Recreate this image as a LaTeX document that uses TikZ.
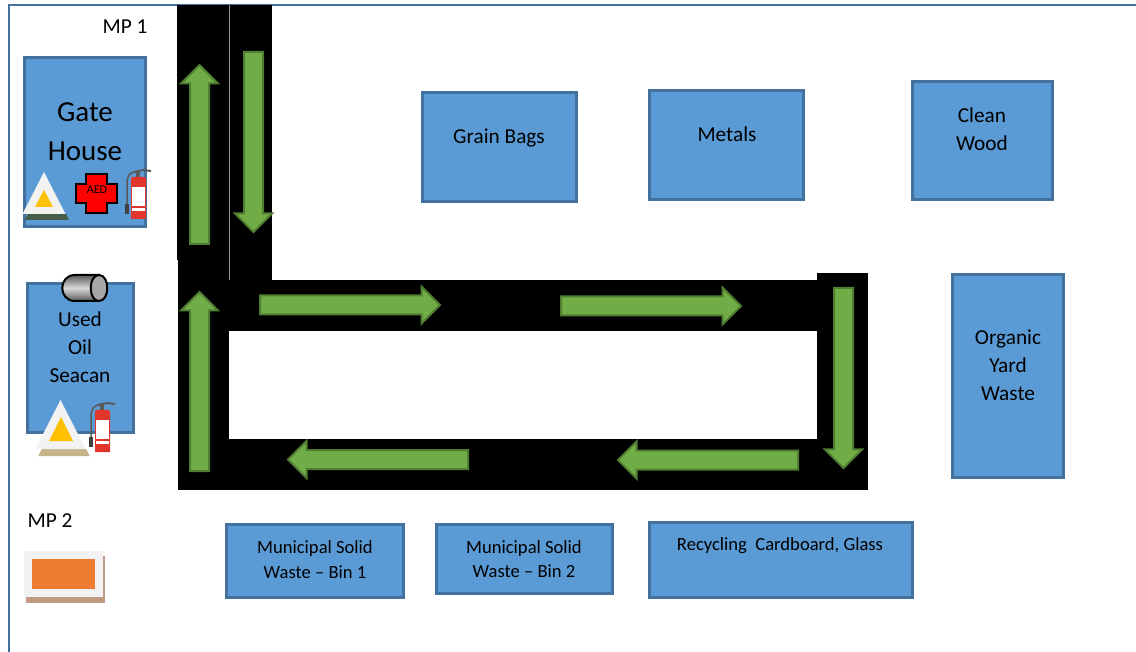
\documentclass[tikz,border=0pt]{standalone}
\usepackage{fontspec}
\setmainfont{Carlito}
\usetikzlibrary{shapes.arrows}
\definecolor{boxfill}{HTML}{5B9BD5}
\definecolor{boxline}{HTML}{41719C}
\definecolor{arrowfill}{HTML}{70AD47}
\definecolor{arrowline}{HTML}{507E32}
\definecolor{signwhite}{HTML}{F2F2F2}
\definecolor{signyellow}{HTML}{FFC000}
\definecolor{padorange}{HTML}{ED7D31}
\definecolor{padshadow}{HTML}{C09A82}
\definecolor{firered}{HTML}{E0352B}
\tikzset{
  bin/.style={draw=boxline,fill=boxfill,line width=2.2pt,inner sep=0pt},
  tag/.style={align=center,inner sep=0pt,font=\fontsize{21.3}{28}\selectfont},
  bigtag/.style={align=center,inner sep=0pt,font=\fontsize{29}{39}\selectfont},
  smalltag/.style={align=center,inner sep=0pt,font=\fontsize{18.6}{24.5}\selectfont},
  flow/.style={shape=single arrow,draw=arrowline,fill=arrowfill,line width=2pt,
    inner sep=8.5pt,single arrow head extend=9pt,single arrow head indent=0pt,anchor=tail},
}
\newcommand{\extinguisher}[2]{
  \begin{scope}[shift={(#1,#2)}]
    \draw[black!65,line width=1.5pt] (7,-5) .. controls (0,-6) and (-4,-2) .. (-4,6) -- (-4,28);
    \fill[black!75] (-6,27) rectangle (-2,37);
    \draw[black!65,line width=2pt] (3,-5) -- (12,-7) -- (20,-6);
    \fill[black!65] (5,-5) rectangle (9,0);
    \fill[firered] (0,2) .. controls (0,-1) and (3,0) .. (7.5,0) .. controls (12,0) and (15,-1) .. (15,2) -- (15,42) -- (0,42) -- cycle;
    \fill[white] (1,10) rectangle (14,29);
    \fill[white] (1,31) rectangle (14,34);
  \end{scope}
}
\newcommand{\muster}[4]{
  \begin{scope}[shift={(#1,#2)},scale=#3]
    \fill[#4] (-16,42) -- (22,42) -- (25,48) -- (-19,48) -- cycle;
    \fill[signwhite] (0,0) -- (21.5,42) -- (-21.5,42) -- cycle;
  \end{scope}
}
\begin{document}
\begin{tikzpicture}[x=1pt,y=-1pt]
  \useasboundingbox (0,0) rectangle (1136,652);
  \draw[boxline,line width=2pt] (8.5,652) -- (8.5,5.5) -- (1136,5.5);
  \fill[black] (177,5) rectangle (228.5,260);
  \fill[black] (230,5) rectangle (272,280);
  \fill[black] (178,260) rectangle (229,490);
  \fill[black!40] (228.5,5) rectangle (230,280);
  \fill[black] (229,280) rectangle (817,331);
  \fill[black] (817,273) rectangle (868,490);
  \fill[black] (229,439) rectangle (817,490);
  \node[flow,minimum height=179pt,rotate=90] (gateup) at (199.5,245) {};
  \node[flow,minimum height=180pt,rotate=-90] (gatedown) at (253.5,51) {};
  \node[flow,minimum height=179pt,rotate=90] (loopup) at (199.5,472) {};
  \node[flow,minimum height=180pt] (topone) at (259,305) {};
  \node[flow,minimum height=180pt] (toptwo) at (560,306) {};
  \node[flow,minimum height=180pt,rotate=-90] (sidedown) at (843.5,287) {};
  \node[flow,minimum height=180pt,rotate=180] (lowone) at (799,460) {};
  \node[flow,minimum height=180pt,rotate=180] (lowtwo) at (469,459.5) {};
  \node[bin,minimum width=121pt,minimum height=169pt] (gate) at (85,142) {};
  \node[bin,minimum width=106pt,minimum height=149pt] (seacan) at (80.5,358) {};
  \node[bin,minimum width=154pt,minimum height=109pt] (grain) at (499.5,147) {};
  \node[bin,minimum width=154pt,minimum height=109pt] (metals) at (726.5,145) {};
  \node[bin,minimum width=140pt,minimum height=118pt] (wood) at (982.5,140.5) {};
  \node[bin,minimum width=111pt,minimum height=203pt] (yard) at (1008,376) {};
  \node[bin,minimum width=177pt,minimum height=73pt] (binone) at (315,561) {};
  \node[bin,minimum width=176pt,minimum height=69pt] (bintwo) at (524.5,559) {};
  \node[bin,minimum width=263pt,minimum height=75pt] (recycling) at (781,560) {};
  \node[tag] (mpone) at (125,27) {MP 1};
  \node[tag] (mptwo) at (50,520.5) {MP 2};
  \node[bigtag] (gatetext) at (85,132) {Gate\\House};
  \node[tag] (seacantext) at (80,347.5) {Used\\Oil\\Seacan};
  \node[tag] (graintext) at (499,138) {Grain Bags};
  \node[tag] (metaltext) at (727,134.5) {Metals};
  \node[tag] (woodtext) at (982,129.5) {Clean\\Wood};
  \node[tag] (yardtext) at (1008,365.5) {Organic\\Yard\\Waste};
  \node[smalltag] (binonetext) at (315,559.5) {Municipal Solid\\Waste -- Bin 1};
  \node[smalltag] (bintwotext) at (524,559) {Municipal Solid\\Waste -- Bin 2};
  \node[smalltag] (recyclingtext) at (780,545.5) {Recycling\ \ Cardboard, Glass};
  \muster{44}{172}{1}{black!50!boxfill!70!olive}
  \fill[signyellow] (44,190) -- (53,207) -- (35,207) -- cycle;
  \draw[black,line width=2pt,fill=red] (86,174) -- (107,174) -- (107,184) -- (117,184) -- (117,203) -- (107,203) -- (107,213) -- (86,213) -- (86,203) -- (76,203) -- (76,184) -- (86,184) -- cycle;
  \node[inner sep=0pt,font=\fontsize{12}{12}\selectfont] (aed) at (97,190) {AED};
  \extinguisher{131}{177}
  \shade[left color=black!65,right color=black!65,middle color=black!15,shading angle=0,draw=black,line width=2pt] (75,275) -- (99,275) -- (99,301) -- (75,301) .. controls (58,301) and (58,275) .. (75,275) -- cycle;
  \draw[black,line width=2pt,fill=black!35] (99,275) .. controls (88,275) and (88,301) .. (99,301) .. controls (110,301) and (110,275) .. (99,275) -- cycle;
  \muster{60.5}{400}{1.17}{padshadow!70!olive!70!white}
  \fill[signyellow] (61,417) -- (73,441) -- (49,441) -- cycle;
  \extinguisher{95}{410}
  \fill[padshadow] (26,556) rectangle (105,603);
  \fill[signwhite] (24,551) rectangle (103,597);
  \fill[padorange] (32,559) rectangle (95,589);
\end{tikzpicture}
\end{document}
